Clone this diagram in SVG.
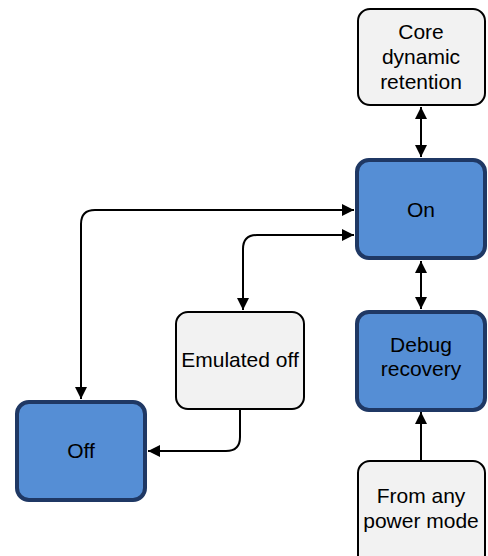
<svg xmlns="http://www.w3.org/2000/svg" width="488" height="556" viewBox="0 0 488 556">
<defs>
<style>
.blue{fill:#558ed5;stroke:#1f3864;stroke-width:4}
.grey{fill:#f2f2f2;stroke:#000;stroke-width:2}
.t{font-family:"Liberation Sans",Arial,sans-serif;font-size:21px;fill:#000;text-anchor:middle}
.c{fill:none;stroke:#000;stroke-width:2}
</style>
<marker id="ah" markerUnits="userSpaceOnUse" markerWidth="12" markerHeight="12" refX="12" refY="6" orient="auto-start-reverse">
<path d="M0,0 L12,6 L0,12 z" fill="#000"/>
</marker>
</defs>
<rect width="488" height="556" fill="#fff"/>
<g id="connectors">
<path class="c" d="M421,107 L421,157" marker-start="url(#ah)" marker-end="url(#ah)"/>
<path class="c" d="M421,261 L421,309" marker-start="url(#ah)" marker-end="url(#ah)"/>
<path class="c" d="M421,460 L421,412" marker-end="url(#ah)"/>
<path class="c" d="M81,399 L81,224 Q81,210 95,210 L354,210" marker-start="url(#ah)" marker-end="url(#ah)"/>
<path class="c" d="M243,310 L243,249 Q243,235 257,235 L354,235" marker-start="url(#ah)" marker-end="url(#ah)"/>
<path class="c" d="M240,410 L240,437 Q240,451 226,451 L148,451" marker-end="url(#ah)"/>
</g>
<g id="core">
<rect class="grey" x="358" y="9" width="127" height="96" rx="12"/>
<text class="t" x="421" y="39">Core</text>
<text class="t" x="421" y="64">dynamic</text>
<text class="t" x="421" y="89">retention</text>
</g>
<g id="on">
<rect class="blue" x="357" y="160" width="128" height="98" rx="12"/>
<text class="t" x="421" y="217">On</text>
</g>
<g id="debug">
<rect class="blue" x="357" y="312" width="128" height="98" rx="12"/>
<text class="t" x="421" y="352">Debug</text>
<text class="t" x="421" y="376">recovery</text>
</g>
<g id="emulated">
<rect class="grey" x="176" y="312" width="128" height="97" rx="12"/>
<text class="t" x="240" y="367">Emulated off</text>
</g>
<g id="off">
<rect class="blue" x="17" y="402" width="128" height="98" rx="12"/>
<text class="t" x="81" y="458">Off</text>
</g>
<g id="fromany">
<rect class="grey" x="358" y="461" width="127" height="110" rx="12"/>
<text class="t" x="421" y="503">From any</text>
<text class="t" x="421" y="528">power mode</text>
</g>
</svg>
